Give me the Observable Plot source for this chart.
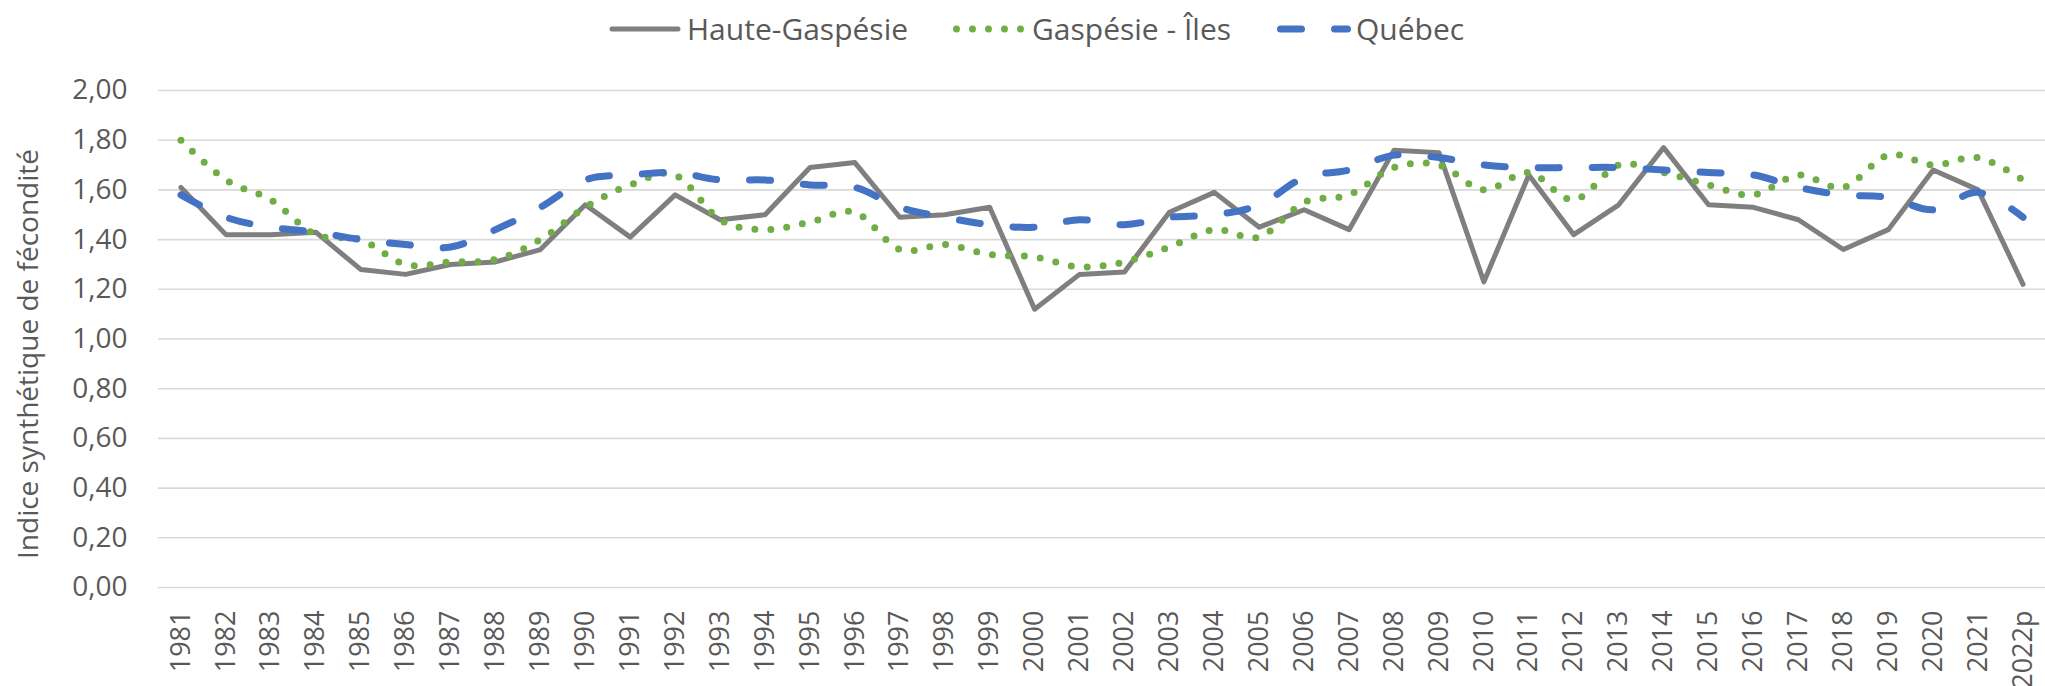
<!DOCTYPE html>
<html><head><meta charset="utf-8">
<script src="https://cdn.jsdelivr.net/npm/d3@7"></script>
<script src="https://cdn.jsdelivr.net/npm/@observablehq/plot@0.6"></script>
<style>
html,body{margin:0;padding:0;background:#fff;}
#chart{position:relative;width:2045px;height:686px;font-family:"Open Sans",sans-serif;background:#fff;}
#legend{position:absolute;left:0;top:0;}
#plot{position:absolute;left:0;top:50px;}
</style></head>
<body>
<div id="chart"><svg id="legend" width="2045" height="50"></svg><div id="plot"></div></div>
<script>
const years = ["1981","1982","1983","1984","1985","1986","1987","1988","1989","1990",
  "1991","1992","1993","1994","1995","1996","1997","1998","1999","2000",
  "2001","2002","2003","2004","2005","2006","2007","2008","2009","2010",
  "2011","2012","2013","2014","2015","2016","2017","2018","2019","2020",
  "2021","2022p"];
const hauteGaspesie = [1.61,1.42,1.42,1.43,1.28,1.26,1.30,1.31,1.36,1.54,
  1.41,1.58,1.48,1.50,1.69,1.71,1.49,1.50,1.53,1.12,
  1.26,1.27,1.51,1.59,1.45,1.52,1.44,1.76,1.75,1.23,
  1.66,1.42,1.54,1.77,1.54,1.53,1.48,1.36,1.44,1.68,
  1.60,1.22];
const gaspesieIles = [1.80,1.64,1.56,1.42,1.40,1.30,1.31,1.32,1.40,1.53,
  1.62,1.66,1.48,1.44,1.47,1.51,1.36,1.38,1.34,1.33,
  1.29,1.31,1.37,1.44,1.41,1.55,1.58,1.69,1.70,1.60,
  1.67,1.56,1.70,1.67,1.62,1.58,1.66,1.61,1.74,1.70,
  1.73,1.64];
const quebec = [1.58,1.49,1.45,1.43,1.40,1.38,1.37,1.44,1.53,1.64,
  1.66,1.67,1.64,1.64,1.62,1.61,1.53,1.49,1.46,1.45,
  1.48,1.46,1.49,1.50,1.54,1.65,1.68,1.74,1.73,1.70,
  1.69,1.69,1.69,1.68,1.67,1.66,1.61,1.58,1.57,1.52,
  1.59,1.49];
const yTicks = [0, 0.2, 0.4, 0.6, 0.8, 1.0, 1.2, 1.4, 1.6, 1.8, 2.0];
const seriesNames = ["Haute-Gaspésie", "Gaspésie - Îles", "Québec"];
const yTitle = "Indice synthétique de fécondité";

const textColor = "#595959";
const styles = [
  {stroke: "#7f7f7f", strokeWidth: 5, dash: null, cap: "round"},
  {stroke: "#70ad47", strokeWidth: 7, dash: "0 16", cap: "round"},
  {stroke: "#4472c4", strokeWidth: 7, dash: "21 33", cap: "round"}
];

// Legend
const legendPos = [{x0: 612, x1: 678, tx: 687}, {x0: 956.5, x1: 1021.5, tx: 1032}, {x0: 1280.5, x1: 1347.5, tx: 1356}];
const lg = d3.select("#legend");
seriesNames.forEach((name, i) => {
  const s = styles[i], p = legendPos[i];
  lg.append("line").attr("x1", p.x0).attr("x2", p.x1).attr("y1", 29).attr("y2", 29)
    .attr("stroke", s.stroke).attr("stroke-width", s.strokeWidth)
    .attr("stroke-linecap", s.cap).attr("stroke-dasharray", s.dash);
  lg.append("text").attr("x", p.tx).attr("y", 39.5).attr("fill", textColor)
    .attr("font-family", "Open Sans").attr("font-size", 30).text(name);
});

const rows = vals => years.map((y, i) => ({year: y, value: vals[i]}));
const series = [hauteGaspesie, gaspesieIles, quebec];

const chart = Plot.plot({
  width: 2045,
  height: 636,
  marginTop: 40,
  marginBottom: 99,
  marginLeft: 158,
  marginRight: 0,
  style: {fontFamily: "Open Sans", color: textColor, background: "white", overflow: "visible"},
  x: {type: "point", domain: years, padding: 0.5, label: null},
  y: {domain: [0, 2], label: null},
  marks: [
    Plot.gridY(yTicks, {stroke: "#d9d9d9", strokeOpacity: 1, strokeWidth: 1.6}),
    Plot.axisY(yTicks, {tickSize: 0, tickPadding: 31, fontSize: 28, fill: textColor, label: null,
      tickFormat: d => d.toFixed(2).replace(".", ",")}),
    Plot.axisX({tickSize: 0, tickPadding: 23, tickRotate: -90, fontSize: 27, fill: textColor, label: null}),
    Plot.text([yTitle], {frameAnchor: "left", textAnchor: "middle", lineAnchor: "middle",
      dx: -129, dy: 15, rotate: -90, fontSize: 28, fill: textColor}),
    ...series.map((vals, i) => Plot.line(rows(vals), {
      x: "year", y: "value",
      stroke: styles[i].stroke,
      strokeWidth: styles[i].strokeWidth,
      strokeLinecap: styles[i].cap,
      strokeLinejoin: "round",
      strokeDasharray: styles[i].dash || undefined,
      curve: i === 0 ? "linear" : "cardinal"
    }))
  ]
});
document.getElementById("plot").appendChild(chart);
</script>
</body></html>
